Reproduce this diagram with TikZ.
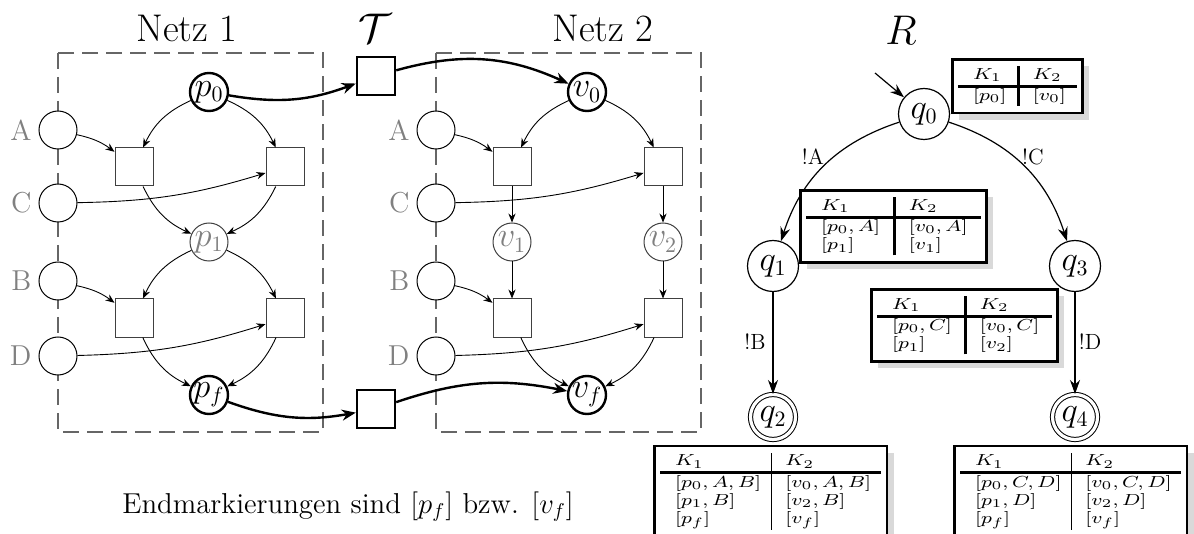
\documentclass[tikz,border=0pt]{standalone}
\usepackage{array}
\usepackage{graphicx}
\usetikzlibrary{arrows.meta,shadows}
\newcommand\kx[1]{\scalebox{1.27}[1]{$#1$}}
\newcommand\ktab[4]{\begin{tabular}{@{\hspace{7.5pt}}p{#1}@{\vrule width #3\hspace{6.5pt}}p{#2}@{}}#4\end{tabular}}
\begin{document}
\begin{tikzpicture}[x=0.5pt,y=-0.5pt,
 plc/.style={circle, draw, line width=0.5pt, minimum size=19pt, inner sep=-2pt, fill=white, font=\fontsize{16}{19}\selectfont},
 bplc/.style={plc, line width=1.2pt},
 gplc/.style={plc, draw=black!75, text=black!50},
 trn/.style={rectangle, draw=black!75, line width=0.5pt, minimum size=19pt, inner sep=0pt, fill=white},
 btrn/.style={trn, draw=black, line width=1.2pt},
 lbl/.style={text=black!50, font=\Large},
 narc/.style={-{Stealth[length=4.5pt,width=3.6pt]}, line width=0.45pt},
 barc/.style={-{Stealth[length=7pt,width=5.5pt]}, line width=1.2pt},
 qstate/.style={circle, draw, line width=0.6pt, minimum size=25.5pt, inner sep=0pt, font=\fontsize{16}{19}\selectfont},
 fstate/.style={qstate, line width=0.5pt, double, double distance=1.6pt, minimum size=22.5pt},
 tarc/.style={-{Stealth[length=7pt,width=5pt]}, line width=0.6pt},
 dashbox/.style={draw=black!60, line width=0.6pt, dash pattern=on 8pt off 4pt},
 title/.style={font=\fontsize{19.3}{23}\selectfont},
 elbl/.style={font=\fontsize{11}{13}\selectfont},
 ktbl/.style={draw, line width=1.4pt, fill=white, inner xsep=2.8pt, inner ysep=3.5pt, anchor=north west,
   font=\fontsize{8}{9.2}\selectfont,
   drop shadow={shadow xshift=3.5pt, shadow yshift=-3.5pt, fill=black!15, opacity=1, draw=none}}
]
\useasboundingbox (0,0) rectangle (1194,534);

% dashed net boxes
\draw[dashbox] (58,53) rectangle (323,432);
\draw[dashbox] (436,53) rectangle (701,432);

% titles
\node[title] (n1) at (187,28) {Netz 1};
\node[title] (tt) at (375,28) {$\mathcal{T}$};
\node[title] (n2) at (603,28) {Netz 2};
\node[title] (rr) at (901,30) {$R$};

% Netz 1
\node[plc, label={[lbl]left:A}] (a1) at (58,130) {};
\node[plc, label={[lbl]left:C}] (c1) at (58,203) {};
\node[plc, label={[lbl]left:B}] (b1) at (58,281) {};
\node[plc, label={[lbl]left:D}] (d1) at (58,356) {};
\node[bplc] (p0) at (209,92) {$p_0$};
\node[gplc] (p1) at (209,242) {$p_1$};
\node[bplc] (pf) at (209,395) {$p_f$};
\node[trn] (t11) at (134,167) {};
\node[trn] (t12) at (285,167) {};
\node[trn] (t13) at (134,318) {};
\node[trn] (t14) at (285,318) {};

% T
\node[btrn] (T1) at (376,76) {};
\node[btrn] (T2) at (376,409) {};

% Netz 2
\node[plc, label={[lbl]left:A}] (a2) at (436,130) {};
\node[plc, label={[lbl]left:C}] (c2) at (436,203) {};
\node[plc, label={[lbl]left:B}] (b2) at (436,281) {};
\node[plc, label={[lbl]left:D}] (d2) at (436,356) {};
\node[bplc] (v0) at (587,92) {$v_0$};
\node[gplc] (v1) at (512,242) {$v_1$};
\node[gplc] (v2) at (663,242) {$v_2$};
\node[bplc] (vf) at (587,395) {$v_f$};
\node[trn] (t21) at (512,167) {};
\node[trn] (t22) at (663,167) {};
\node[trn] (t23) at (512,318) {};
\node[trn] (t24) at (663,318) {};

% Netz 1 arcs
\draw[narc] (p0) to[bend right=20] (t11);
\draw[narc] (p0) to[bend left=20] (t12);
\draw[narc] (a1) to[bend left=12] (t11);
\draw[narc] (c1) to[bend right=8] (t12);
\draw[narc] (t11) to[bend right=20] (p1);
\draw[narc] (t12) to[bend left=20] (p1);
\draw[narc] (p1) to[bend right=20] (t13);
\draw[narc] (p1) to[bend left=20] (t14);
\draw[narc] (b1) to[bend left=12] (t13);
\draw[narc] (d1) to[bend right=8] (t14);
\draw[narc] (t13) to[bend right=20] (pf);
\draw[narc] (t14) to[bend left=20] (pf);

% Netz 2 arcs
\draw[narc] (v0) to[bend right=20] (t21);
\draw[narc] (v0) to[bend left=20] (t22);
\draw[narc] (a2) to[bend left=12] (t21);
\draw[narc] (c2) to[bend right=8] (t22);
\draw[narc] (t21) -- (v1);
\draw[narc] (t22) -- (v2);
\draw[narc] (v1) -- (t23);
\draw[narc] (v2) -- (t24);
\draw[narc] (b2) to[bend left=12] (t23);
\draw[narc] (d2) to[bend right=8] (t24);
\draw[narc] (t23) to[bend right=20] (vf);
\draw[narc] (t24) to[bend left=20] (vf);

% thick arcs
\draw[barc] (p0) to[bend right=15] (T1);
\draw[barc] (T1) to[bend left=20] (v0);
\draw[barc] (pf) to[bend right=15] (T2);
\draw[barc] (T2) to[bend left=15] (vf);

% automaton R
\node[qstate] (q0) at (924,114) {$q_0$};
\node[qstate] (q1) at (773,266) {$q_1$};
\node[qstate] (q3) at (1075,266) {$q_3$};
\node[fstate] (q2) at (773,417) {$q_2$};
\node[fstate] (q4) at (1075,417) {$q_4$};
\coordinate (qin) at (875,73);
\draw[tarc] (qin) -- (q0);
\draw[tarc] (q0) to[bend right=27] (q1);
\draw[tarc] (q0) to[bend left=27] (q3);
\draw[tarc] (q1) -- (q2);
\draw[tarc] (q3) -- (q4);
\node[elbl] (lA) at (813,157) {!A};
\node[elbl] (lC) at (1033,157) {!C};
\node[elbl] (lB) at (755,342) {!B};
\node[elbl] (lD) at (1090,342) {!D};

% tables
\node[ktbl] (k0) at (951,58) {\ktab{22pt}{22pt}{1.4pt}{\kx{K_1} & \kx{K_2}\\ \noalign{\hrule height 1.4pt} \kx{[p_0]} & \kx{[v_0]}}};
\node[ktbl] (k1) at (799,189) {\ktab{36pt}{36pt}{1.4pt}{\kx{K_1} & \kx{K_2}\\ \noalign{\hrule height 1.4pt} \kx{[p_0, A]} & \kx{[v_0, A]}\\ \kx{[p_1]} & \kx{[v_1]}}};
\node[ktbl] (k3) at (870,288) {\ktab{36pt}{36pt}{1.4pt}{\kx{K_1} & \kx{K_2}\\ \noalign{\hrule height 1.4pt} \kx{[p_0, C]} & \kx{[v_0, C]}\\ \kx{[p_1]} & \kx{[v_2]}}};
\node[ktbl] (k2) at (653,444.5) {\ktab{48pt}{48pt}{0.7pt}{\kx{K_1} & \kx{K_2}\\ \noalign{\hrule height 1.5pt} \kx{[p_0, A, B]} & \kx{[v_0, A, B]}\\ \kx{[p_1, B]} & \kx{[v_2, B]}\\ \kx{[p_f]} & \kx{[v_f]}}};
\node[ktbl] (k4) at (953,444.5) {\ktab{48pt}{48pt}{0.7pt}{\kx{K_1} & \kx{K_2}\\ \noalign{\hrule height 1.5pt} \kx{[p_0, C, D]} & \kx{[v_0, C, D]}\\ \kx{[p_1, D]} & \kx{[v_2, D]}\\ \kx{[p_f]} & \kx{[v_f]}}};

% caption
\node[font=\Large, anchor=base] (endm) at (348,513) {Endmarkierungen sind $[p_f]$ bzw. $[v_f]$};
\end{tikzpicture}
\end{document}
